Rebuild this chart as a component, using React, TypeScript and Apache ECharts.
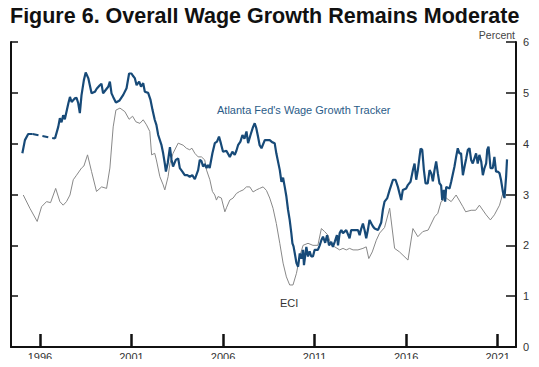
import React, { useEffect, useRef } from "react";
import * as echarts from "echarts";

// Atlanta Fed Wage Growth Tracker (year, percent)
const wgtEarlyYears = [1995.04, 1995.18, 1995.36, 1995.6];
const wgtEarlyValues = [3.81, 4.07, 4.19, 4.19];

const wgtYears = [
  1996.82, 1997.0, 1997.09, 1997.18, 1997.27, 1997.36, 1997.55, 1997.64, 1997.73, 1997.9,
  1998.0, 1998.09, 1998.18, 1998.27, 1998.4, 1998.5, 1998.64, 1998.82, 1999.0, 1999.1,
  1999.27, 1999.36, 1999.45, 1999.6, 1999.73, 1999.82, 1999.91, 2000.0, 2000.15, 2000.35,
  2000.55, 2000.73, 2000.87, 2001.0, 2001.09, 2001.18, 2001.28, 2001.42, 2001.52, 2001.64,
  2001.73, 2001.91, 2002.04, 2002.15, 2002.27, 2002.36, 2002.46, 2002.64, 2002.73, 2002.82,
  2002.88, 2002.98, 2003.1, 2003.19, 2003.27, 2003.42, 2003.55, 2003.64, 2003.78, 2003.91,
  2004.05, 2004.18, 2004.32, 2004.46, 2004.64, 2004.73, 2004.82, 2004.91, 2005.0, 2005.1,
  2005.18, 2005.27, 2005.42, 2005.55, 2005.67, 2005.78, 2005.88, 2006.0, 2006.18, 2006.37,
  2006.51, 2006.64, 2006.73, 2006.82, 2006.95, 2007.06, 2007.17, 2007.28, 2007.37, 2007.5,
  2007.64, 2007.73, 2007.82, 2007.91, 2008.0, 2008.1, 2008.28, 2008.55, 2008.68, 2008.82,
  2008.91, 2009.1, 2009.19, 2009.28, 2009.37, 2009.46, 2009.55, 2009.64, 2009.73, 2009.79,
  2009.85, 2009.92, 2010.01, 2010.1, 2010.19, 2010.28, 2010.37, 2010.42, 2010.55, 2010.64,
  2010.73, 2010.82, 2010.91, 2011.0, 2011.18, 2011.28, 2011.37, 2011.46, 2011.58, 2011.68,
  2011.79, 2011.91, 2012.0, 2012.1, 2012.22, 2012.28, 2012.37, 2012.46, 2012.55, 2012.73,
  2012.91, 2013.0, 2013.19, 2013.37, 2013.46, 2013.55, 2013.64, 2013.73, 2013.82, 2013.91,
  2014.0, 2014.1, 2014.19, 2014.28, 2014.46, 2014.64, 2014.73, 2014.82, 2014.97, 2015.1,
  2015.19, 2015.28, 2015.42, 2015.55, 2015.64, 2015.73, 2015.82, 2016.0, 2016.1, 2016.24,
  2016.37, 2016.46, 2016.55, 2016.64, 2016.73, 2016.79, 2016.88, 2016.97, 2017.06, 2017.18,
  2017.28, 2017.37, 2017.46, 2017.55, 2017.64, 2017.73, 2017.82, 2017.91, 2017.97, 2018.06,
  2018.13, 2018.19, 2018.37, 2018.46, 2018.64, 2018.73, 2018.82, 2018.91, 2019.0, 2019.1,
  2019.19, 2019.28, 2019.37, 2019.46, 2019.55, 2019.64, 2019.73, 2019.82, 2019.91, 2020.0,
  2020.1, 2020.19, 2020.28, 2020.37, 2020.43, 2020.5, 2020.61, 2020.73, 2020.82, 2020.91,
  2021.0, 2021.1, 2021.18, 2021.28, 2021.37, 2021.46, 2021.51,
];
const wgtValues = [
  4.1, 4.33, 4.5, 4.42, 4.56, 4.48, 4.79, 4.92, 4.82, 4.89,
  4.9, 4.8, 4.6, 4.95, 5.25, 5.4, 5.29, 4.99, 5.02, 5.08,
  5.15, 5.18, 4.99, 5.06, 5.12, 5.22, 4.99, 4.92, 4.81, 4.85,
  4.96, 5.09, 5.38, 5.38, 5.33, 5.29, 5.15, 5.22, 5.12, 5.19,
  5.02, 5.0, 4.86, 4.66, 4.47, 4.37, 4.17, 3.97, 3.81, 3.61,
  3.45, 3.62, 3.93, 3.68, 3.55, 3.68, 3.71, 3.52, 3.45, 3.38,
  3.38, 3.35, 3.38, 3.3, 3.48, 3.68, 3.66, 3.55, 3.6, 3.52,
  3.58, 3.52, 3.81, 4.01, 4.04, 4.14, 4.01, 3.84, 3.86, 3.74,
  3.84, 3.78, 3.86, 3.97, 4.04, 4.17, 4.1, 4.24, 4.01, 4.17,
  4.33, 4.4, 4.3, 4.14, 3.97, 3.91, 4.07, 4.07, 4.03, 4.01,
  3.81, 3.48, 3.25, 3.33, 3.15, 2.96, 2.7, 2.5, 2.24, 2.04,
  1.98, 1.84, 1.65, 1.58, 1.84, 1.74, 1.91, 1.61, 1.97, 1.78,
  1.88, 1.78, 1.78, 1.91, 1.91, 2.0, 2.1, 2.17, 2.05, 2.2,
  2.0, 2.07, 1.97, 2.07, 2.2, 2.0, 2.24, 2.3, 2.24, 2.3,
  2.14, 2.3, 2.3, 2.3, 2.2, 2.33, 2.43, 2.3, 2.14, 2.3,
  2.5, 2.43, 2.37, 2.33, 2.3, 2.45, 2.7, 2.86, 2.93, 3.09,
  3.19, 3.29, 3.29, 3.15, 3.02, 2.89, 3.09, 3.12, 3.19, 3.25,
  3.48, 3.61, 3.29, 3.48, 3.74, 3.9, 3.88, 3.48, 3.22, 3.22,
  3.48, 3.42, 3.26, 3.48, 3.65, 3.42, 3.22, 3.18, 2.89, 3.09,
  2.86, 3.15, 3.12, 3.25, 3.55, 3.74, 3.91, 3.81, 3.81, 3.38,
  3.55, 3.71, 3.88, 3.91, 3.68, 3.61, 3.71, 3.81, 3.61, 3.78,
  3.65, 3.38, 3.52, 3.61, 3.88, 3.94, 3.52, 3.52, 3.74, 3.45,
  3.45, 3.42, 3.29, 3.06, 2.93, 3.35, 3.69,
];

// Employment Cost Index (year, percent)
const eciYears = [
  1995.09, 1995.45, 1995.85, 1996.09, 1996.36, 1996.58, 1996.86, 1997.09, 1997.27, 1997.45,
  1997.64, 1997.82, 1998.0, 1998.27, 1998.4, 1998.6, 1998.82, 1999.09, 1999.37, 1999.64,
  1999.82, 2000.0, 2000.15, 2000.37, 2000.64, 2000.87, 2001.06, 2001.24, 2001.46, 2001.64,
  2001.82, 2002.0, 2002.1, 2002.27, 2002.36, 2002.55, 2002.73, 2002.82, 2003.0, 2003.1,
  2003.27, 2003.55, 2003.82, 2004.0, 2004.18, 2004.3, 2004.46, 2004.64, 2004.82, 2005.0,
  2005.1, 2005.28, 2005.42, 2005.55, 2005.64, 2005.73, 2005.91, 2006.1, 2006.2, 2006.37,
  2006.55, 2006.73, 2006.91, 2007.1, 2007.28, 2007.46, 2007.64, 2007.82, 2008.0, 2008.19,
  2008.37, 2008.55, 2008.73, 2008.91, 2009.1, 2009.28, 2009.46, 2009.64, 2009.82, 2010.01,
  2010.19, 2010.37, 2010.64, 2010.91, 2011.18, 2011.37, 2011.55, 2011.73, 2011.91, 2012.1,
  2012.37, 2012.55, 2012.73, 2012.91, 2013.1, 2013.37, 2013.64, 2013.82, 2013.96, 2014.15,
  2014.37, 2014.55, 2014.82, 2015.1, 2015.37, 2015.64, 2016.1, 2016.37, 2016.64, 2016.91,
  2017.2, 2017.55, 2017.73, 2017.91, 2018.19, 2018.46, 2018.73, 2019.1, 2019.25, 2019.55,
  2019.8, 2020.0, 2020.37, 2020.6, 2020.82, 2021.1, 2021.28, 2021.37,
];
const eciValues = [
  2.99, 2.73, 2.47, 2.76, 2.86, 2.84, 3.12, 2.86, 2.79, 2.86,
  2.99, 3.29, 3.38, 3.52, 3.56, 3.78, 3.45, 3.06, 3.15, 3.12,
  3.52, 4.33, 4.66, 4.7, 4.63, 4.48, 4.54, 4.43, 4.4, 4.47,
  4.37, 4.24, 3.78, 3.81, 3.68, 3.35, 3.19, 3.09, 3.35, 3.61,
  3.81, 4.01, 3.97, 3.91, 3.88, 3.91, 3.81, 3.74, 3.74, 3.68,
  3.48, 3.29, 3.06, 2.99, 2.89, 2.96, 2.93, 2.66, 2.75, 2.89,
  2.93, 3.02, 3.06, 3.09, 3.15, 3.15, 3.05, 3.09, 3.12, 3.15,
  3.08, 2.93, 2.73, 2.43, 2.04, 1.65, 1.38, 1.22, 1.22, 1.45,
  1.78, 2.0, 2.04, 2.0, 2.0, 2.33, 2.27, 2.2, 2.0, 1.97,
  1.91, 1.94, 1.91, 1.94, 1.91, 1.91, 1.94, 1.97, 1.74, 1.87,
  2.1, 2.24, 2.35, 2.73, 1.94, 1.87, 1.71, 2.33, 2.17, 2.27,
  2.3, 2.56, 2.63, 2.86, 2.93, 2.86, 2.99, 2.76, 2.66, 2.69,
  2.69, 2.79, 2.6, 2.5, 2.6, 2.79, 3.02, 3.09,
];

const yearTicks = [1996, 2001, 2006, 2011, 2016, 2021];

const zip = (xs: number[], ys: number[]) => xs.map((x, i) => [x, ys[i]]);

export default function App() {
  const ref = useRef<HTMLDivElement>(null);
  useEffect(() => {
    if (!ref.current) return;
    const chart = echarts.init(ref.current, undefined, { renderer: "svg" });
    const blue = "#174a78";
    const early = zip(wgtEarlyYears, wgtEarlyValues);
    const main = zip(wgtYears, wgtValues);
    const gap = [early[early.length - 1], main[0]];
    chart.setOption({
      animation: false,
      backgroundColor: "#ffffff",
      grid: { left: 11, right: 23, top: 42, bottom: 20 },
      xAxis: {
        type: "value",
        min: 1994.42,
        max: 2022.0,
        axisLine: { show: true, onZero: false, lineStyle: { color: "#111", width: 2 } },
        axisTick: {
          show: true,
          inside: true,
          length: 13,
          customValues: yearTicks,
          lineStyle: { color: "#111", width: 2.5 },
        },
        axisLabel: {
          customValues: yearTicks,
          formatter: (v: number) => String(Math.round(v)),
          color: "#333",
          fontSize: 11,
          fontFamily: "Liberation Sans, Arial, sans-serif",
          margin: 4,
        },
        splitLine: { show: false },
      },
      yAxis: [
        {
          type: "value",
          position: "right",
          min: 0,
          max: 6,
          interval: 1,
          axisLine: { show: true, lineStyle: { color: "#111", width: 2 } },
          axisTick: { show: true, inside: true, length: 10, lineStyle: { color: "#111", width: 1.5 } },
          axisLabel: {
            color: "#333",
            fontSize: 11,
            fontFamily: "Liberation Sans, Arial, sans-serif",
            margin: 7,
          },
          splitLine: { show: false },
        },
        {
          type: "value",
          position: "left",
          min: 0,
          max: 6,
          interval: 1,
          axisLine: { show: true, lineStyle: { color: "#111", width: 2 } },
          axisTick: { show: true, inside: true, length: 7, lineStyle: { color: "#111", width: 1.5 } },
          axisLabel: { show: false },
          splitLine: { show: false },
        },
      ],
      series: [
        {
          type: "line",
          data: zip(eciYears, eciValues),
          showSymbol: false,
          lineStyle: { color: "#888888", width: 1 },
          z: 2,
        },
        {
          type: "line",
          data: early,
          showSymbol: false,
          lineStyle: { color: blue, width: 2.2 },
          z: 3,
        },
        {
          type: "line",
          data: gap,
          showSymbol: false,
          lineStyle: { color: blue, width: 2, type: [6, 4] },
          z: 3,
        },
        {
          type: "line",
          data: main,
          showSymbol: false,
          lineStyle: { color: blue, width: 2.2 },
          z: 3,
        },
      ],
      graphic: [
        {
          type: "text",
          left: 10,
          top: 5,
          style: {
            text: "Figure 6. Overall Wage Growth Remains Moderate",
            font: "bold 21.5px 'Liberation Sans', Arial, sans-serif",
            fill: "#111",
          },
        },
        {
          type: "text",
          right: 24,
          top: 29,
          style: {
            text: "Percent",
            font: "10.5px 'Liberation Sans', Arial, sans-serif",
            fill: "#444",
          },
        },
        {
          type: "text",
          left: 217,
          top: 104,
          style: {
            text: "Atlanta Fed's Wage Growth Tracker",
            font: "11px 'Liberation Sans', Arial, sans-serif",
            fill: "#2b5c88",
          },
        },
        {
          type: "text",
          left: 280,
          top: 297,
          style: {
            text: "ECI",
            font: "11px 'Liberation Sans', Arial, sans-serif",
            fill: "#333",
          },
        },
      ],
    });
    return () => chart.dispose();
  }, []);
  return <div ref={ref} style={{ width: 539, height: 367, margin: -8 }} />;
}
